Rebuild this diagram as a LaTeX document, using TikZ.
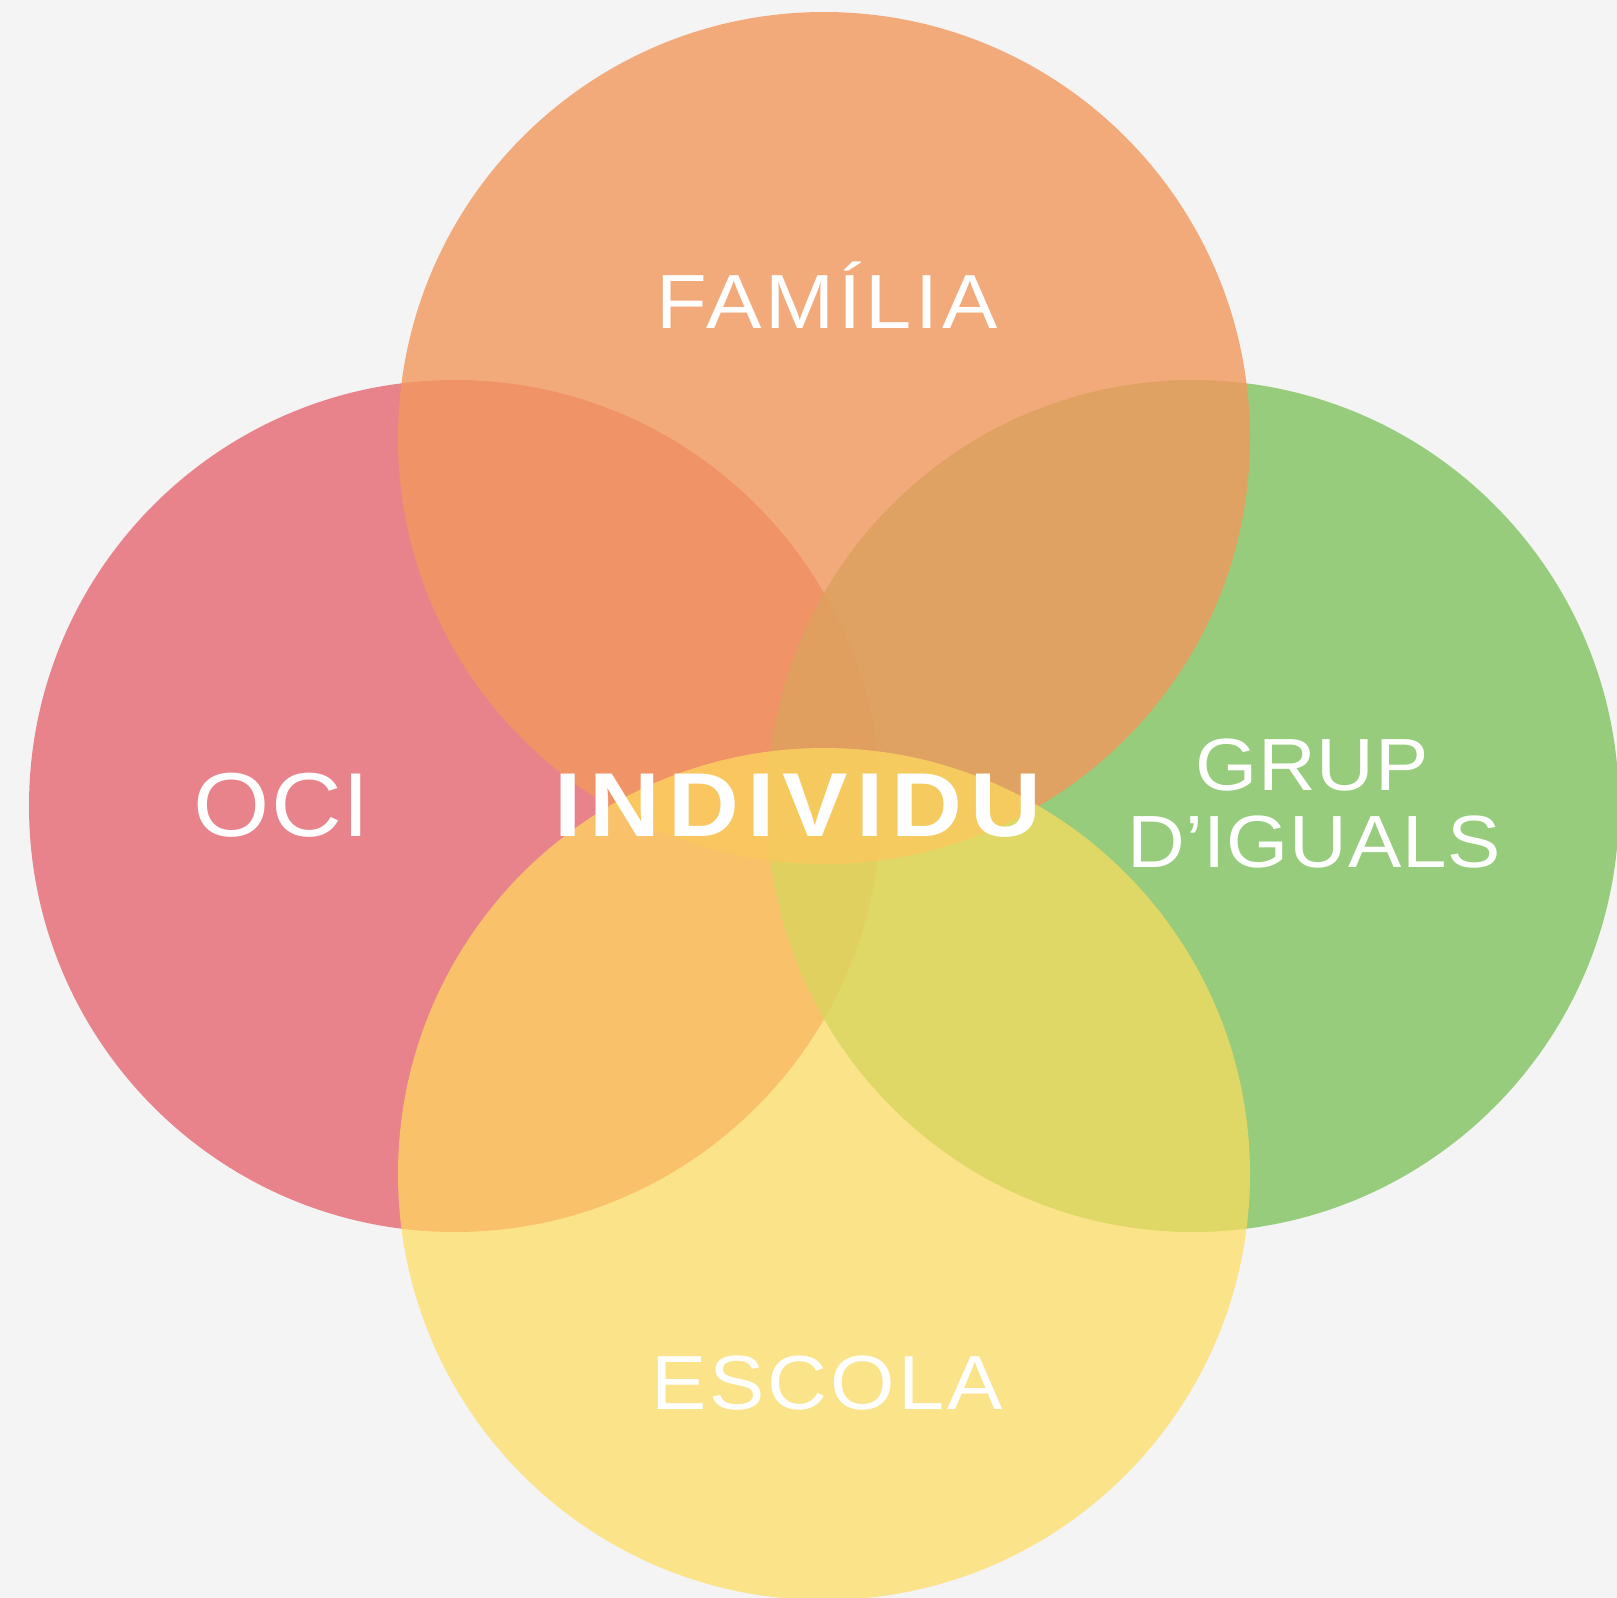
\documentclass[tikz,border=0pt]{standalone}
\usepackage{fontspec}
\newfontfamily\lab[FakeStretch=1.08]{Liberation Sans}
\definecolor{bgc}{HTML}{F4F4F4}
\definecolor{topc}{HTML}{F3985D}
\definecolor{leftc}{HTML}{E56771}
\definecolor{rightc}{HTML}{7FC35F}
\definecolor{botc}{HTML}{FFDC5D}
\tikzset{
  disc/.style={circle, inner sep=0pt, minimum size=852pt, draw=none},
  word/.style={text=white, anchor=base, inner sep=0pt, align=center},
}
\begin{document}
\begin{tikzpicture}[x=1pt,y=-1pt]
\fill[bgc] (0,0) rectangle (1617,1598);
\useasboundingbox (0,0) rectangle (1617,1598);
\node[disc, fill=leftc, fill opacity=0.8] (oci) at (455,806) {};
\node[disc, fill=rightc, fill opacity=0.8] (grup) at (1193,806) {};
\node[disc, fill=topc, fill opacity=0.8] (familia) at (824,438) {};
\node[disc, fill=botc, fill opacity=0.7] (escola) at (824,1174) {};
\node[word] (tfam) at (827,328) {\lab\addfontfeatures{LetterSpace=5}\fontsize{76.8}{80}\selectfont FAMÍLIA};
\node[word] (tesc) at (827,1409) {\lab\addfontfeatures{LetterSpace=4}\fontsize{76.8}{80}\selectfont ESCOLA};
\node[word] (toci) at (282,836) {\lab\addfontfeatures{LetterSpace=1}\fontsize{90.8}{95}\selectfont OCI};
\node[word] (tind) at (798,836) {\lab\addfontfeatures{LetterSpace=9}\fontsize{90.8}{95}\selectfont\bfseries INDIVIDU};
\node[word] (tgrup) at (1312,790) {\lab\addfontfeatures{LetterSpace=1}\fontsize{74}{77}\selectfont GRUP};
\node[word] (tdig) at (1314,867) {\lab\addfontfeatures{LetterSpace=1}\fontsize{74}{77}\selectfont D’IGUALS};
\end{tikzpicture}
\end{document}
